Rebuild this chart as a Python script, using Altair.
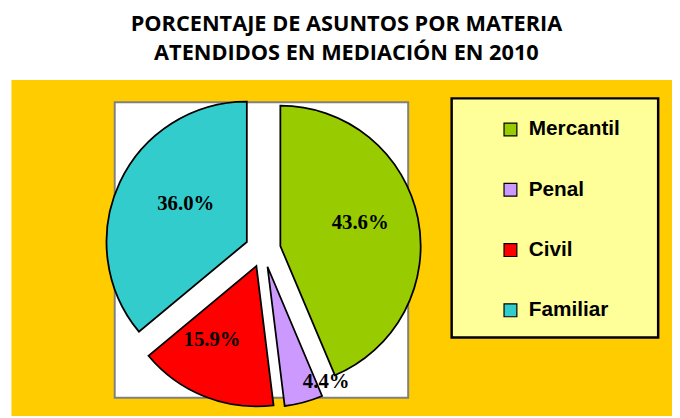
import altair as alt
import pandas as pd

# ---- data ----
categories = ["Mercantil", "Penal", "Civil", "Familiar"]
values = [43.6, 4.4, 15.9, 36.0]
colors = ["#99CC00", "#CC99FF", "#FF0000", "#33CCCC"]

# ---- label placement style (distance from slice apex, angle tweak in degrees) ----
label_r = [84, 131, 87, 73]
label_dang = [-4.5, -12, 9.4, 7]

EXPLODE = 18
RADIUS = 142
VIEW_W, VIEW_H = 669, 340
CX, CY = 255, 172  # pie centre inside the view (pixels)

df = pd.DataFrame({
    "i": list(range(len(categories))),
    "cat": categories,
    "v": values,
    "lr": label_r,
    "ld": label_dang,
})

xs = alt.Scale(domain=[-CX, VIEW_W - CX], range=[0, VIEW_W])
ys = alt.Scale(domain=[-CY, VIEW_H - CY], range=[0, VIEW_H])

base = alt.Chart(df).transform_joinaggregate(
    total="sum(v)"
).transform_window(
    cum="sum(v)", sort=[alt.SortField("i")], frame=[None, 0]
).transform_calculate(
    a0="(datum.cum - datum.v) / datum.total * 2 * PI",
    a1="datum.cum / datum.total * 2 * PI",
).transform_calculate(
    mid="(datum.a0 + datum.a1) / 2",
).transform_calculate(
    dx=f"{EXPLODE} * sin(datum.mid)",
    dy=f"-{EXPLODE} * cos(datum.mid)",
    lang="datum.mid + datum.ld * PI / 180",
    label="format(datum.v, '.1f') + '%'",
).transform_calculate(
    lx="datum.dx + datum.lr * sin(datum.lang)",
    ly="datum.dy - datum.lr * cos(datum.lang)",
)

arcs = base.mark_arc(outerRadius=RADIUS, stroke="black", strokeWidth=1.8).encode(
    x=alt.X("dx:Q", scale=xs, axis=None),
    y=alt.Y("dy:Q", scale=ys, axis=None),
    theta=alt.Theta("a0:Q", scale=None),
    theta2=alt.Theta2("a1:Q"),
    color=alt.Color(
        "cat:N",
        scale=alt.Scale(domain=categories, range=colors),
        sort=categories,
        legend=alt.Legend(
            orient="none", legendX=495, legendY=40, title=None,
            symbolType="square", symbolSize=169, symbolStrokeColor="black",
            symbolStrokeWidth=1.2, symbolOpacity=1,
            labelFont="Liberation Sans", labelFontWeight="bold",
            labelFontSize=21, labelColor="black", labelOffset=8,
            rowPadding=39, padding=0,
        ),
    ),
)

labels = base.mark_text(
    font="Liberation Serif", fontWeight="bold", fontSize=21, color="black",
    align="center", baseline="middle",
).encode(
    x=alt.X("lx:Q", scale=xs, axis=None),
    y=alt.Y("ly:Q", scale=ys, axis=None),
    text="label:N",
)

one = alt.InlineData(values=[{"k": 1}])
plot_area = alt.Chart(one).mark_rect(fill="white", stroke="#808080", strokeWidth=2).encode(
    x=alt.value(105), x2=alt.value(402), y=alt.value(23), y2=alt.value(322)
)
legend_box = alt.Chart(one).mark_rect(fill="#FFFF99", stroke="black", strokeWidth=2.5).encode(
    x=alt.value(446), x2=alt.value(655), y=alt.value(19), y2=alt.value(261)
)

chart = alt.layer(plot_area, legend_box, arcs, labels).properties(
    width=VIEW_W,
    height=VIEW_H,
    autosize=alt.AutoSizeParams(type="none"),
    padding={"left": 3, "top": 70, "right": 0, "bottom": 0},
    background="white",
    title=alt.TitleParams(
        text=["PORCENTAJE DE ASUNTOS POR MATERIA", "ATENDIDOS EN MEDIACIÓN EN 2010"],
        font="Open Sans", fontSize=22, fontWeight="bold", color="black",
        anchor="middle", dx=5, offset=15, lineHeight=29,
    ),
).configure_view(fill="#FFCC00", stroke="transparent")

chart.save("out.html", embed_options={"renderer": "svg", "actions": False})
